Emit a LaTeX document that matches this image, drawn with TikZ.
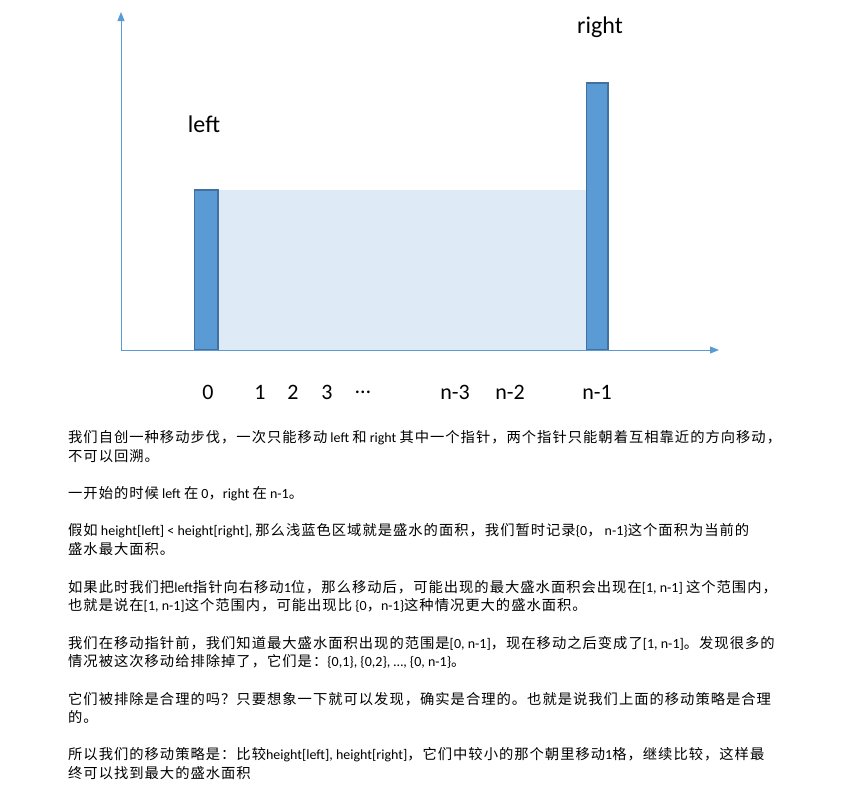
\documentclass[tikz,border=0pt]{standalone}
\usepackage{fontspec}
\setmainfont{Carlito}
\newfontfamily\cjk[LetterSpace=7]{Noto Sans CJK SC}
\newfontfamily\latf{Carlito}
\newcommand\lt[1]{{\latf\fontsize{14}{16}\selectfont #1}}
\usetikzlibrary{arrows.meta}
\definecolor{barfill}{HTML}{5B9BD5}
\definecolor{barline}{HTML}{41719C}
\definecolor{water}{HTML}{DEEAF6}
\definecolor{axisc}{HTML}{5B9BD5}
\tikzset{
  axisline/.style={draw=axisc, line width=1pt, -{Triangle[length=9pt,width=7pt]}},
  barbox/.style={fill=barfill, draw=barline, line width=1.2pt},
  waterbox/.style={fill=water, draw=none},
  biglabel/.style={font=\fontsize{24}{28}\selectfont, inner sep=0pt, text=black},
  idxlabel/.style={font=\fontsize{22}{26}\selectfont, inner sep=0pt, text=black},
  para/.style={font=\cjk\fontsize{14.3}{16}\selectfont, anchor=west, inner sep=0pt, text=black}
}
\begin{document}
\begin{tikzpicture}[x=1pt,y=-1pt]
\useasboundingbox (0,0) rectangle (851,801);
% water region
\fill[waterbox] (218,190) rectangle (586,350);
% bars
\draw[barbox] (194.5,190) rectangle (218,350);
\draw[barbox] (586.7,83) rectangle (608,350);
% axes
\coordinate (O) at (121,350);
\coordinate (ytop) at (121,12);
\coordinate (xend) at (719,350);
\draw[axisline] (O) -- (ytop);
\draw[axisline] (O) -- (xend);
% labels
\node[biglabel] (lleft) at (204,124) {left};
\node[biglabel] (lright) at (600,27) {right};
\node[idxlabel] (i0) at (208,392) {0};
\node[idxlabel] (i1) at (260,392) {1};
\node[idxlabel] (i2) at (293,392) {2};
\node[idxlabel] (i3) at (327,392) {3};
\node[idxlabel] (idots) at (363,392) {…};
\node[idxlabel] (in3) at (455,392) {n-3};
\node[idxlabel] (in2) at (510,392) {n-2};
\node[idxlabel] (in1) at (597,392) {n-1};
% paragraphs
\node[para] (p1) at (68,438) {我们自创一种移动步伐，一次只能移动\lt{ left }和\lt{ right }其中一个指针，两个指针只能朝着互相靠近的方向移动，};
\node[para] (p2) at (68,456) {不可以回溯。};
\node[para] (p3) at (68,494) {一开始的时候\lt{ left }在\lt{ 0}，\lt{right }在\lt{ n-1}。};
\node[para] (p4) at (68,531) {假如\lt{ height[left] < height[right], }那么浅蓝色区域就是盛水的面积，我们暂时记录\lt{\{0}，\lt{ n-1\}}这个面积为当前的};
\node[para] (p5) at (68,549) {盛水最大面积。};
\node[para] (p6) at (68,587) {如果此时我们把\lt{left}指针向右移动\lt{1}位，那么移动后，可能出现的最大盛水面积会出现在\lt{[1, n-1] }这个范围内，};
\node[para] (p7) at (68,605) {也就是说在\lt{[1, n-1]}这个范围内，可能出现比\lt{ \{0}，\lt{n-1\}}这种情况更大的盛水面积。};
\node[para] (p8) at (68,643) {我们在移动指针前，我们知道最大盛水面积出现的范围是\lt{[0, n-1]}，现在移动之后变成了\lt{[1, n-1]}。发现很多的};
\node[para] (p9) at (68,661) {情况被这次移动给排除掉了，它们是：\lt{\{0,1\}, \{0,2\}, …, \{0, n-1\}}。};
\node[para] (p10) at (68,699) {它们被排除是合理的吗？只要想象一下就可以发现，确实是合理的。也就是说我们上面的移动策略是合理};
\node[para] (p11) at (68,717) {的。};
\node[para] (p12) at (68,755) {所以我们的移动策略是：比较\lt{height[left], height[right]}，它们中较小的那个朝里移动\lt{1}格，继续比较，这样最};
\node[para] (p13) at (68,773) {终可以找到最大的盛水面积};
\end{tikzpicture}
\end{document}
